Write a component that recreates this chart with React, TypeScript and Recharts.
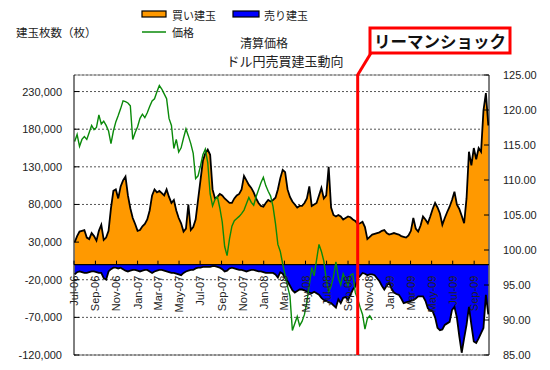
import React from 'react';
import {
  ComposedChart,
  Area,
  Line,
  XAxis,
  YAxis,
  CartesianGrid,
  ReferenceLine,
  ReferenceDot,
} from 'recharts';

// ---- data ----
const axisStart = '2006-07-01';
const axisEnd = '2009-10-14';
const firstWeek = '2006-07-03';
const lehmanDate = '2008-09-29';

// 買い建玉 (weekly, contracts)
const buyPositions = [
  30000, 38000, 44000, 45000, 46000, 36000, 34000, 42000, 38000, 32000,
  45000, 53000, 33000, 36000, 45000, 75000, 98000, 100000, 88000, 104000,
  112000, 117000, 92000, 75000, 62000, 54000, 45000, 46000, 51000, 54000,
  60000, 72000, 92000, 100000, 96000, 98000, 95000, 92000, 100000, 90000,
  82000, 86000, 72000, 62000, 55000, 44000, 48000, 80000, 46000, 50000,
  60000, 86000, 112000, 138000, 148000, 153000, 146000, 100000, 88000, 90000,
  94000, 92000, 88000, 85000, 82000, 82000, 88000, 92000, 94000, 100000,
  118000, 112000, 106000, 102000, 96000, 88000, 82000, 78000, 77000, 82000,
  86000, 84000, 86000, 89000, 100000, 115000, 126000, 123000, 100000, 90000,
  84000, 80000, 76000, 78000, 78000, 82000, 88000, 104000, 78000, 80000,
  82000, 92000, 102000, 88000, 92000, 130000, 76000, 66000, 64000, 66000,
  64000, 60000, 62000, 64000, 63000, 60000, 58000, 54000, 55000, 57000,
  50000, 34000, 37000, 40000, 41000, 42000, 43000, 45000, 46000, 42000,
  40000, 41000, 42000, 41000, 40000, 38000, 37000, 36000, 39000, 45000,
  62000, 48000, 44000, 52000, 64000, 60000, 55000, 64000, 74000, 82000,
  76000, 68000, 53000, 62000, 70000, 77000, 86000, 97000, 80000, 74000,
  65000, 55000, 88000, 150000, 132000, 155000, 140000, 155000, 150000, 205000,
  228000, 185000,
];

// 売り建玉 (weekly, contracts, plotted negative)
const sellPositions = [
  -13000, -10000, -9000, -10000, -11000, -11000, -10000, -9000, -9000, -10000,
  -11000, -11000, -18000, -20000, -9000, -6000, -4000, -4000, -5000, -4000,
  -6000, -8000, -9000, -8000, -7000, -7000, -8000, -9000, -8000, -7000,
  -7000, -9000, -11000, -9000, -8000, -7000, -7000, -8000, -9000, -10000,
  -11000, -11000, -12000, -13000, -14000, -11000, -9000, -8000, -7000, -7000,
  -5000, -4000, -4000, -3000, -3000, -3000, -3000, -2000, -2000, -3000,
  -4000, -6000, -9000, -8000, -5000, -4000, -5000, -6000, -7000, -7000,
  -8000, -9000, -8000, -7000, -7000, -8000, -9000, -9000, -10000, -11000,
  -11000, -11000, -11000, -13000, -17000, -10000, -12000, -18000, -22000, -28000,
  -34000, -37000, -35000, -33000, -33000, -34000, -36000, -37000, -38000, -36000,
  -38000, -40000, -44000, -47000, -48000, -50000, -51000, -54000, -57000, -46000,
  -51000, -44000, -43000, -47000, -40000, -33000, -29000, -18000, -15000, -11000,
  -12000, -14000, -13000, -13000, -14000, -18000, -22000, -28000, -33000, -28000,
  -24000, -32000, -37000, -39000, -40000, -45000, -51000, -50000, -49000, -48000,
  -47000, -45000, -42000, -42000, -42000, -48000, -58000, -61000, -62000, -70000,
  -84000, -87000, -86000, -80000, -78000, -76000, -60000, -56000, -70000, -95000,
  -117000, -98000, -80000, -56000, -80000, -102000, -104000, -98000, -91000, -84000,
  -40000, -66000,
];

// 価格 (weekly settlement price, yen)
const prices = [
  115.5, 116.5, 114.8, 115.8, 116.2, 115.8, 116.8, 117.8, 117.2, 117.5,
  119.3, 118.0, 118.4, 117.8, 117.0, 115.2, 117.0, 118.3, 119.2, 120.2,
  121.3, 121.2, 121.0, 120.6, 115.8, 116.8, 117.6, 118.8, 119.4, 118.9,
  119.6, 120.5, 121.3, 121.6, 122.6, 123.5, 123.0, 122.3, 121.6, 118.8,
  117.8, 114.5, 115.8, 114.0, 114.6, 116.0, 117.3, 116.3, 115.2, 113.8,
  110.2, 110.6, 112.0, 113.6, 114.4, 112.5, 108.0, 106.3, 107.2, 107.6,
  106.0, 104.0, 100.5, 99.2, 101.6, 103.4, 104.2, 104.5, 104.8, 105.2,
  105.7, 106.6, 107.5, 106.8, 106.4, 107.6, 108.6, 109.6, 110.4, 109.2,
  108.4, 107.7, 106.2, 103.8, 100.8, 99.8, 98.0, 96.4, 94.8, 93.4,
  88.5, 89.5, 90.5, 89.2, 89.8, 90.8, 92.6, 95.0, 97.5, 96.3,
  98.6, 100.8, 99.8, 98.4, 95.8, 94.0, 94.8, 96.2, 98.3, 96.0,
  95.0, 96.6, 95.8, 94.9, 96.4, 96.6, 93.9, 93.0, 91.8, 90.8,
  88.7, 90.2, 90.6, 90.0,
];

const monthTickDates = [
  '2006-07-01', '2006-09-01', '2006-11-01', '2007-01-01', '2007-03-01',
  '2007-05-01', '2007-07-01', '2007-09-01', '2007-11-01', '2008-01-01',
  '2008-03-01', '2008-05-01', '2008-07-01', '2008-09-01', '2008-11-01',
  '2009-01-01', '2009-03-01', '2009-05-01', '2009-07-01', '2009-09-01',
];
const monthTickLabels = [
  'Jul-06', 'Sep-06', 'Nov-06', 'Jan-07', 'Mar-07', 'May-07', 'Jul-07',
  'Sep-07', 'Nov-07', 'Jan-08', 'Mar-08', 'May-08', 'Jul-08', 'Sep-08',
  'Nov-08', 'Jan-09', 'Mar-09', 'May-09', 'Jul-09', 'Sep-09',
];
const positionTicks = [-120000, -70000, -20000, 30000, 80000, 130000, 180000, 230000];
const priceTicks = [85, 90, 95, 100, 105, 110, 115, 120, 125];

// ---- helpers ----
const DAY = 86400000;
const dayOf = (s: string) => (Date.parse(s) - Date.parse(axisStart)) / DAY;

const rows = buyPositions.map((b, i) => ({
  d: dayOf(firstWeek) + 7 * i,
  buy: b,
  sell: sellPositions[i],
  price: prices[i],
}));

const NUM_FONT = '"Liberation Sans", Arial, sans-serif';
const JP_FONT = '"Noto Sans CJK JP", "Noto Sans", sans-serif';
const TEXT = '#222';

const LeftTick = (props: any) => {
  const { x, y, payload } = props;
  return (
    <g>
      <line x1={x} x2={x + 5} y1={y} y2={y} stroke="#000" />
      <text
        x={x - 12}
        y={y}
        textAnchor="end"
        dominantBaseline="central"
        fontFamily={NUM_FONT}
        fontSize={11}
        fill={TEXT}
      >
        {Number(payload.value).toLocaleString('en-US')}
      </text>
    </g>
  );
};

const RightTick = (props: any) => {
  const { x, y, payload } = props;
  return (
    <g>
      <line x1={x - 5} x2={x} y1={y} y2={y} stroke="#000" />
      <text
        x={x + 14}
        y={y}
        textAnchor="start"
        dominantBaseline="central"
        fontFamily={NUM_FONT}
        fontSize={11}
        fill={TEXT}
      >
        {Number(payload.value).toFixed(2)}
      </text>
    </g>
  );
};

const makeMonthTick = (label: string) => (p: any) => {
  const cx = p.cx;
  const cy = p.cy;
  const ty = cy + 11;
  return (
    <g>
      <line x1={cx} x2={cx} y1={cy} y2={cy - 4} stroke="#000" />
      <text
        x={cx}
        y={ty}
        transform={`rotate(-90, ${cx}, ${ty})`}
        textAnchor="end"
        dominantBaseline="central"
        fontFamily={NUM_FONT}
        fontSize={11}
        fill={TEXT}
      >
        {label}
      </text>
    </g>
  );
};

export default function App() {
  return (
    <div style={{ position: 'absolute', left: 0, top: 0, width: 550, height: 370, background: '#fff' }}>
      <ComposedChart
        width={550}
        height={370}
        data={rows}
        margin={{ top: 75, right: 0, bottom: 15, left: 0 }}
      >
        <XAxis
          dataKey="d"
          type="number"
          domain={[0, dayOf(axisEnd)]}
          allowDataOverflow
          hide
        />
        <YAxis
          yAxisId="left"
          orientation="left"
          width={74}
          domain={[-120000, 252000]}
          ticks={positionTicks}
          allowDataOverflow
          interval={0}
          tickSize={0}
          tickMargin={0}
          tickLine={false}
          axisLine={{ stroke: '#000' }}
          tick={LeftTick}
        />
        <YAxis
          yAxisId="right"
          orientation="right"
          width={61}
          domain={[85, 125]}
          ticks={priceTicks}
          allowDataOverflow
          interval={0}
          tickSize={0}
          tickMargin={0}
          tickLine={false}
          axisLine={{ stroke: '#000' }}
          tick={RightTick}
        />
        <CartesianGrid
          yAxisId="left"
          vertical={false}
          stroke="#555"
          strokeDasharray="2 2"
        />
        <Area
          yAxisId="left"
          dataKey="buy"
          type="linear"
          baseValue={0}
          fill="#FF9900"
          fillOpacity={1}
          stroke="#000"
          strokeWidth={1.8}
          isAnimationActive={false}
        />
        <Area
          yAxisId="left"
          dataKey="sell"
          type="linear"
          baseValue={0}
          fill="#0000FF"
          fillOpacity={1}
          stroke="#000"
          strokeWidth={1.8}
          isAnimationActive={false}
        />
        <ReferenceLine yAxisId="left" y={252000} stroke="#888" />
        <ReferenceLine yAxisId="left" y={-120000} stroke="#666" />
        <ReferenceLine yAxisId="left" y={0} stroke="#000" strokeWidth={1.2} />
        {monthTickDates.map((dt, i) => (
          <ReferenceDot
            key={dt}
            yAxisId="left"
            x={dayOf(dt)}
            y={0}
            r={1}
            ifOverflow="visible"
            shape={makeMonthTick(monthTickLabels[i])}
          />
        ))}
        <Line
          yAxisId="right"
          dataKey="price"
          type="linear"
          stroke="#0a8a0a"
          strokeWidth={1.4}
          dot={false}
          activeDot={false}
          isAnimationActive={false}
        />
        <ReferenceLine
          yAxisId="left"
          x={dayOf(lehmanDate)}
          stroke="#FF0000"
          strokeWidth={3}
        />
      </ComposedChart>
      <svg
        width={550}
        height={370}
        style={{ position: 'absolute', left: 0, top: 0, pointerEvents: 'none' }}
      >
        <text x={16} y={32} fontFamily={JP_FONT} fontSize={11.5} fill={TEXT} dominantBaseline="central">
          建玉枚数（枚）
        </text>
        <rect x={142} y={11} width={24} height={6} fill="#FF9900" stroke="#000" strokeWidth={1.2} />
        <text x={172} y={14.5} fontFamily={JP_FONT} fontSize={11} fill={TEXT} dominantBaseline="central">
          買い建玉
        </text>
        <rect x={233} y={11} width={26} height={6} fill="#0000FF" stroke="#000" strokeWidth={1.2} />
        <text x={264} y={14.5} fontFamily={JP_FONT} fontSize={11} fill={TEXT} dominantBaseline="central">
          売り建玉
        </text>
        <line x1={142} x2={166} y1={32} y2={32} stroke="#0a8a0a" strokeWidth={1.5} />
        <text x={172} y={32} fontFamily={JP_FONT} fontSize={11} fill={TEXT} dominantBaseline="central">
          価格
        </text>
        <text x={264} y={42} fontFamily={JP_FONT} fontSize={12} fill={TEXT} textAnchor="middle" dominantBaseline="central">
          清算価格
        </text>
        <text x={285} y={60} fontFamily={JP_FONT} fontSize={13} fill={TEXT} textAnchor="middle" dominantBaseline="central">
          ドル円売買建玉動向
        </text>
        <line x1={357} y1={76} x2={371} y2={53} stroke="#FF0000" strokeWidth={3} />
        <rect x={370} y={28} width={140} height={25} fill="#fff" stroke="#FF0000" strokeWidth={3} />
        <text x={440} y={41} fontFamily={JP_FONT} fontSize={16.5} fontWeight={700} fill="#111" textAnchor="middle" dominantBaseline="central">
          リーマンショック
        </text>
      </svg>
    </div>
  );
}
